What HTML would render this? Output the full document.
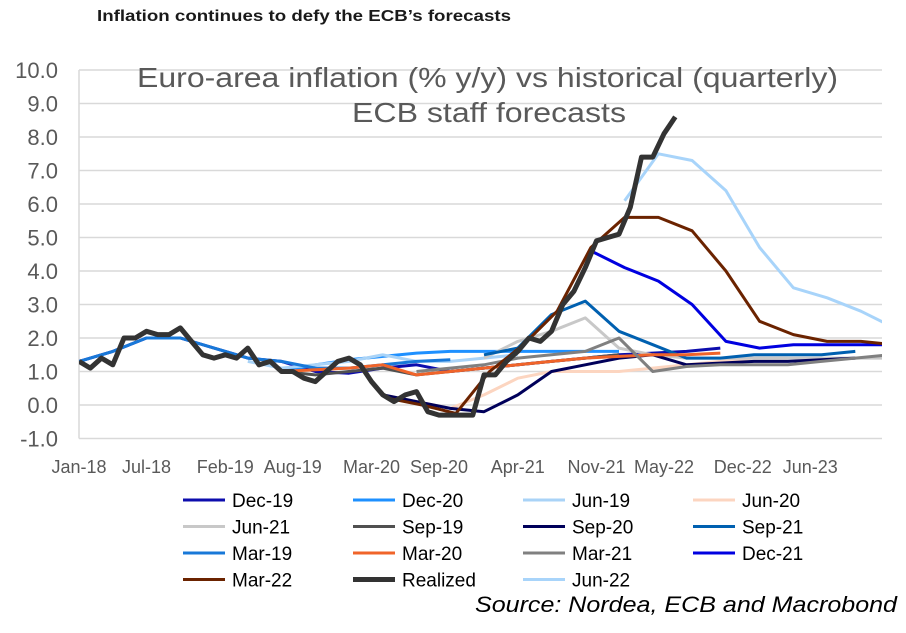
<!DOCTYPE html>
<html><head><meta charset="utf-8"><style>
body{margin:0;background:#fff;font-family:"Liberation Sans",sans-serif}
svg text{font-family:"Liberation Sans",sans-serif}
</style></head><body>
<svg id="chart" width="906" height="628" viewBox="0 0 906 628">
<text x="97" y="21" font-size="16" font-weight="bold" fill="#1a1a1a" textLength="414" lengthAdjust="spacingAndGlyphs">Inflation continues to defy the ECB’s forecasts</text>
<g id="grid"></g>
<g id="axes"></g>
<defs><clipPath id="pc"><rect x="79" y="60" width="803" height="400"/></clipPath></defs>
<g id="series" clip-path="url(#pc)"></g>
<text x="137" y="87" font-size="28" fill="#595959" textLength="701" lengthAdjust="spacingAndGlyphs">Euro-area inflation (% y/y) vs historical (quarterly)</text>
<text x="352" y="122" font-size="28" fill="#595959" textLength="274" lengthAdjust="spacingAndGlyphs">ECB staff forecasts</text>
<g id="legend"></g>
<text x="475" y="612" font-size="22" font-style="italic" fill="#000" textLength="422" lengthAdjust="spacingAndGlyphs">Source: Nordea, ECB and Macrobond</text>
</svg>
<script>
const yTicks=[-1,0,1,2,3,4,5,6,7,8,9,10];
const xLabels=["Jan-18","Jul-18","Feb-19","Aug-19","Mar-20","Sep-20","Apr-21","Nov-21","May-22","Dec-22","Jun-23"];
const xLabelMonths=[0,6,13,19,26,32,39,46,52,59,65];
const realized=[1.3,1.1,1.4,1.2,2.0,2.0,2.2,2.1,2.1,2.3,1.9,1.5,1.4,1.5,1.4,1.7,1.2,1.3,1.0,1.0,0.8,0.7,1.0,1.3,1.4,1.2,0.7,0.3,0.1,0.3,0.4,-0.2,-0.3,-0.3,-0.3,-0.3,0.9,0.9,1.3,1.6,2.0,1.9,2.2,3.0,3.4,4.1,4.9,5.0,5.1,5.9,7.4,7.4,8.1,8.6];
const seriesNames=["Dec-19","Dec-20","Jun-19","Jun-20","Jun-21","Sep-19","Sep-20","Sep-21","Mar-19","Mar-20","Mar-21","Dec-21","Mar-22","Realized","Jun-22"];
const seriesColors=["#0d0dad","#1e90ff","#a9d3f7","#fcd5c0","#c8c8c8","#505050","#00005a","#0060b0","#1878d8","#f0642a","#808080","#0000e0","#6b2300","#333333","#a8d4fa"];
const seriesStart=[0,18,15,27,36,18,27,36,0,18,30,45.5,27.5,0,48.5];
const fcDecA=[1.3,1.6,2.0,2.0,1.7,1.4,1.3,1.0,0.95,1.1,1.2,1.0,1.1,1.2,1.3,1.4,1.5,1.55,1.6,1.7];
const fcDec20=[1.0,1.2,1.35,1.45,1.55,1.6,1.6,1.6,1.6,1.6,1.6];
const fcJun19=[1.3,1.1,1.2,1.3,1.5,1.3,1.3,1.4,1.5];
const fcJun20=[0.3,0.1,-0.1,0.3,0.8,1.0,1.0,1.0,1.1,1.2,1.3,1.4,1.4];
const fcJun21=[1.4,1.9,2.2,2.6,1.7,1.5,1.4,1.4,1.4,1.4,1.4,1.4,1.4];
const fcSep19=[1.0,0.9,1.0,1.1,0.9,1.0,1.1,1.2,1.3,1.4,1.5];
const fcSep20=[0.3,0.1,-0.1,-0.2,0.3,1.0,1.2,1.4,1.5,1.2,1.25,1.3,1.3,1.35,1.4];
const fcSep21=[1.5,1.7,2.7,3.1,2.2,1.8,1.4,1.4,1.5,1.5,1.5,1.6];
const fcMar19=[1.3,1.6,2.0,2.0,1.7,1.4,1.3,1.1,1.1,1.2,1.3,1.35];
const fcMar20=[1.0,1.05,1.1,1.2,0.9,1.0,1.1,1.2,1.3,1.4,1.45,1.5,1.5,1.55];
const fcMar21=[1.0,1.1,1.2,1.4,1.5,1.6,2.0,1.0,1.15,1.2,1.2,1.2,1.3,1.4,1.5];
const fcDec21=[4.6,4.1,3.7,3.0,1.9,1.7,1.8,1.8,1.8,1.8];
const fcMar22=[0.2,0.0,-0.25,1.0,1.8,2.8,4.7,5.6,5.6,5.2,4.0,2.5,2.1,1.9,1.9,1.8];
const fcJun22=[6.1,7.5,7.3,6.4,4.7,3.5,3.2,2.8,2.3];
const seriesValues=[fcDecA,fcDec20,fcJun19,fcJun20,fcJun21,fcSep19,fcSep20,fcSep21,fcMar19,fcMar20,fcMar21,fcDec21,fcMar22,realized,fcJun22];
const NS="http://www.w3.org/2000/svg";
const X=m=>79+m*11.25, Y=v=>405-v*33.5;
function mk(t,a,p){const e=document.createElementNS(NS,t);for(const k in a)e.setAttribute(k,a[k]);p.appendChild(e);return e;}
const grid=document.getElementById('grid'),axes=document.getElementById('axes');
yTicks.forEach(v=>{
 const l=mk('line',{x1:79,x2:882,y1:Y(v),y2:Y(v),stroke:'#d9d9d9','stroke-width':1.5},grid);
 
 
 const t=mk('text',{x:58,y:Y(v)+8,'font-size':22,fill:'#595959','text-anchor':'end'},axes);
 t.textContent=v.toFixed(1);
 
 
});
const ax=mk('line',{x1:79,x2:79,y1:Y(10),y2:Y(-1),stroke:'#d9d9d9','stroke-width':1.5},axes);


xLabels.forEach((s,i)=>{
 const t=mk('text',{x:X(xLabelMonths[i]),y:473,'font-size':18,fill:'#595959','text-anchor':'middle'},axes);
 t.textContent=s;
 
 
});
const sg=document.getElementById('series');
seriesValues.forEach((vals,i)=>{
 const step=i===13?1:3;
 const pts=vals.map((v,k)=>X(seriesStart[i]+k*step).toFixed(1)+','+Y(v).toFixed(1)).join(' ');
 const pl=mk('polyline',{points:pts,fill:'none',stroke:seriesColors[i],'stroke-width':i===13?5:3,'stroke-linejoin':'round'},sg);
 
 
});
sg.appendChild(sg.children[13]);
const lg=document.getElementById('legend');
seriesNames.forEach((n,i)=>{
 const c=i%4,r=Math.floor(i/4);
 const lx=183+c*170,ly=500+r*26.5;
 const g=mk('g',{},lg);
 
 
 mk('line',{x1:lx,x2:lx+42,y1:ly,y2:ly,stroke:seriesColors[i],'stroke-width':i===13?5:3},g);
 const t=mk('text',{x:lx+49,y:ly+7,'font-size':19,fill:'#000'},g);
 t.textContent=n;
});
</script>
</body></html>
